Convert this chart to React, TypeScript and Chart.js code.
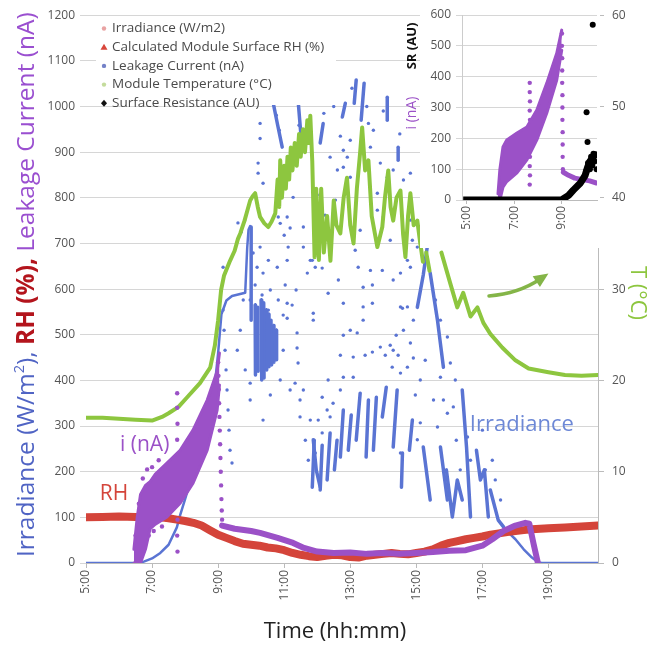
import React, { useEffect, useRef } from 'react';
import { Chart, registerables } from 'chart.js';
Chart.register(...registerables);

const FONT = "'Open Sans', sans-serif";
Chart.defaults.font.family = FONT;

// ---------- main chart data (time in decimal hours) ----------
const xTicks = [5, 7, 9, 11, 13, 15, 17, 19];
const insetXTicks = [5, 7, 9];

const legendLabels = ['Irradiance (W/m2)', 'Calculated Module Surface RH (%)', 'Leakage Current (nA)', 'Module Temperature (°C)', 'Surface Resistance (AU)'];
const legendColors = ['#e9a3a3', '#d9463b', '#7482c8', '#c4dc9c', '#111111'];
const legendShapes = ['dot', 'triangle', 'dot', 'dot', 'diamond'];

// Relative humidity (%)
const rhT = [5.0, 5.5, 6.0, 6.5, 7.0, 7.25, 7.5, 7.75, 8.0, 8.25, 8.5, 8.75, 9.0, 9.25, 9.5, 9.75, 10.0, 10.25, 10.5, 10.75, 11.0, 11.25, 11.5, 11.75, 12.0, 12.25, 12.5, 12.75, 13.0, 13.25, 13.5, 13.75, 14.0, 14.25, 14.5, 14.75, 15.0, 15.25, 15.5, 15.75, 16.0, 16.25, 16.5, 16.75, 17.0, 17.25, 17.5, 17.75, 18.0, 18.25, 18.5, 19.0, 19.5, 20.0, 20.5];
const rhV = [100, 101, 102, 101, 100, 100, 98, 95, 92, 88, 82, 72, 62, 55, 48, 42, 40, 38, 34, 32, 28, 22, 18, 15, 13, 16, 18, 17, 13, 12, 16, 18, 20, 22, 20, 19, 22, 25, 30, 38, 44, 48, 52, 55, 58, 62, 65, 68, 70, 72, 74, 76, 78, 80, 82];

// Module temperature (°C, right axis); null = gap in the record
const tempT = [5.0, 5.5, 6.0, 6.5, 7.0, 7.3, 7.5, 7.8, 8.05, 8.45, 8.76, 8.9, 9.0, 9.09, 9.18, 9.36, 9.5, 9.6, 9.67, 9.8, 9.9, 9.97, 10.05, 10.12, 10.2, 10.27, 10.4, 10.52, 10.62, 10.73, 10.8, 10.85, 10.88, 10.93, 11.0, 11.05, 11.1, 11.15, 11.2, 11.25, 11.32, 11.38, 11.45, 11.5, 11.57, 11.63, 11.7, 11.75, 11.79, 11.85, 11.92, 11.97, 12.05, 12.12, 12.2, 12.3, 12.4, 12.5, 12.58, 12.7, 12.8, 12.9, 13.0, 13.1, 13.2, 13.3, 13.36, 13.45, 13.55, 13.65, 13.75, 13.82, 13.97, 14.05, 14.15, 14.22, 14.3, 14.4, 14.52, 14.6, 14.67, 14.75, 14.82, 14.92, 15.03, 15.12, 15.2, 15.2, 15.3, 15.4, 15.4, 15.76, 16.03, 16.24, 16.42, 16.64, 16.85, 17.03, 17.24, 17.6, 18.0, 18.4, 19.0, 19.5, 20.0, 20.5];
const tempV = [15.9, 15.9, 15.8, 15.7, 15.6, 16.0, 16.4, 17.1, 18.1, 19.7, 21.4, 23.8, 26.6, 29.9, 31.5, 33.1, 34.2, 35.5, 36.1, 37.5, 38.8, 39.7, 40.2, 40.5, 39.0, 37.9, 37.2, 36.8, 37.4, 38.3, 42, 39, 44.1, 40, 43.5, 41, 44.5, 42, 45.5, 43, 46, 43.5, 47, 44.5, 47.5, 45, 48.5, 46, 49, 44, 33.5, 41, 33.2, 41, 34, 38, 33.1, 39.7, 37, 36.1, 40, 42.2, 37, 35, 41, 45, 47.7, 43, 44.1, 38, 36, 34.6, 36.8, 40, 43, 39, 37.5, 40, 40.8, 36, 33.5, 38, 40.5, 37, 37.5, 35, 33, null, 34, 32, null, 34, 30.6, 28, 29.6, 27, 28, 26.3, 25.1, 23.6, 22.2, 21.3, 20.9, 20.6, 20.5, 20.6];

// Leakage current (nA): dense morning band, then a line
const leakBandT = [6.45, 6.55, 6.65, 6.8, 6.94, 7.1, 7.45, 7.85, 8.24, 8.67, 8.97, 9.04];
const leakBandLow = [0, 0, 0, 30, 75, 85, 101, 131, 175, 247, 335, 390];
const leakBandHigh = [30, 100, 150, 170, 178, 195, 219, 247, 291, 357, 420, 460];
const leakLineT = [9.12, 9.5, 10.0, 10.27, 10.8, 11.27, 11.6, 12.0, 12.5, 13.0, 13.5, 14.0, 14.5, 15.0, 15.5, 16.0, 16.5, 17.0, 17.3, 17.64, 18.0, 18.3, 18.42, 18.55, 18.68];
const leakLineV = [82, 75, 70, 66, 55, 44, 33, 25, 22, 23, 20, 22, 20, 22, 24, 27, 28, 38, 52, 70, 82, 88, 86, 42, 0];
const leakDotT = [7.76, 7.76, 7.77, 7.76, 7.77, 7.76, 7.77, 7.76, 7.77, 7.76, 7.77, 9.0, 9.01, 9.02, 9.03, 9.04, 9.05, 9.06, 9.07, 9.08, 9.09, 9.1, 9.11, 9.12, 6.5, 6.6, 6.72, 6.85, 6.9, 7.0, 7.05, 7.2, 7.3];
const leakDotV = [372, 340, 305, 270, 235, 200, 165, 130, 95, 60, 25, 440, 410, 380, 350, 320, 290, 260, 230, 200, 170, 140, 115, 95, 60, 130, 185, 205, 60, 210, 70, 225, 80];

// Irradiance (W/m2): clear-sky line parts (null = gap)
const irrLineT = [5.0, 6.6, 6.75, 7.0, 7.25, 7.5, 7.75, 7.85, 8.0, 8.25, 8.5, 8.75, 8.9, 9.0, 9.1, 9.25, 9.42, 9.82, 9.88, 9.92, 9.97, 9.97, 17.64, 17.8, 18.0, 18.25, 18.5, 18.7, 18.8, 20.5];
const irrLineV = [0, 0, 3, 10, 22, 40, 78, 105, 140, 200, 270, 340, 390, 460, 545, 575, 585, 592, 690, 730, 738, null, 79, 66, 52, 30, 12, 1, 0, 0];
// Irradiance dense clusters (short strokes, null = gap)
const irrStrokeT = [10.0, 10.0, 10.0, 10.12, 10.13, 10.13, 10.2, 10.21, 10.21, 10.3, 10.32, 10.32, 10.38, 10.39, 10.39, 10.45, 10.47, 10.47, 10.53, 10.54, 10.54, 10.6, 10.62, 10.62, 10.68, 10.69, 10.69, 10.76, 10.77, 10.77, 10.67, 10.8, 10.94, 10.94, 11.42, 11.52, 11.52, 11.88, 11.97, 12.09, 12.09, 11.85, 11.91, 11.91, 12.09, 12.15, 12.15, 12.3, 12.39, 12.39, 12.52, 12.6, 12.6, 12.7, 12.79, 12.79, 12.94, 13.03, 13.03, 13.18, 13.3, 13.3, 13.48, 13.55, 13.55, 13.7, 13.79, 13.79, 13.97, 14.09, 14.09, 14.3, 14.42, 14.42, 14.55, 14.58, 14.58, 14.79, 14.88, 14.88, 13.12, 13.18, 13.18, 13.33, 13.42, 13.42, 12.09, 12.18, 12.18, 12.76, 12.85, 12.85, 14.12, 14.12, 14.12, 14.45, 14.45, 14.45, 15.03, 15.21, 15.36, 15.36, 15.42, 15.64, 15.82, 15.82, 15.21, 15.42, 15.42, 15.73, 15.94, 15.94, 15.91, 16.09, 16.24, 16.39, 16.39, 16.39, 16.52, 16.64, 16.64, 16.82, 16.94, 17.06, 17.18, 17.18, 17.24, 17.48, 17.64];
const irrStrokeV = [736, 532, null, 565, 412, null, 560, 420, null, 576, 401, null, 570, 405, null, 554, 423, null, 545, 430, null, 532, 434, null, 520, 440, null, 510, 445, null, 1007, 960, 911, null, 1014, 926, null, 270, 204, 166, null, 166, 269, null, 160, 258, null, 182, 285, null, 204, 269, null, 232, 335, null, 247, 324, null, 269, 372, null, 232, 357, null, 247, 363, null, 320, 385, null, 254, 379, null, 166, 241, null, 247, 313, null, 1007, 1058, null, 970, 1051, null, 920, 963, null, 977, 1007, null, 970, 1020, null, 882, 911, null, 560, 631, 707, null, 635, 532, 429, null, 254, 138, null, 254, 138, null, 204, 101, 182, 138, null, 379, 254, 101, null, 247, 182, 204, 101, null, 160, 94, 79];
// Irradiance scattered readings
const irrDotT = [10.27, 10.27, 10.76, 10.85, 11.45, 11.24, 10.94, 10.21, 10.21, 10.36, 11.27, 11.09, 10.82, 10.88, 11.18, 11.0, 11.58, 10.27, 10.06, 10.18, 10.36, 10.52, 10.79, 11.09, 11.12, 11.58, 11.79, 11.94, 11.7, 9.15, 10.12, 10.33, 10.58, 10.82, 11.03, 11.24, 10.52, 10.97, 11.36, 9.97, 9.6, 9.7, 9.8,
  11.88, 12.79, 13.39, 13.67, 13.39, 13.21, 13.0, 12.79, 12.7, 13.09, 13.45, 13.67, 13.91, 14.21, 14.3, 14.06, 14.45, 14.27, 14.52, 14.73, 14.91, 14.82, 14.73, 14.52, 14.91, 12.33, 12.79, 13.09, 12.7, 12.15, 12.3, 12.48, 12.39, 12.15, 11.94, 14.52, 14.39, 14.61,
  11.85, 12.15, 12.64, 12.33, 13.24, 13.61, 13.97, 13.39, 13.67, 14.3, 14.52, 14.73, 15.03, 14.82, 11.88, 14.58, 12.91, 12.79, 12.39, 12.61, 13.0, 13.61, 13.55, 13.7, 12.79, 13.0, 13.91, 14.3, 14.12, 13.82, 14.0, 14.36, 14.61, 14.82, 14.82, 14.88, 13.82, 12.55, 12.24, 13.3, 14.21, 13.15, 12.0, 12.2, 12.5, 13.05, 13.5, 14.0, 14.5, 12.7,
  15.94, 16.03, 15.73, 15.82, 15.94, 15.64, 16.12, 15.12, 15.03, 16.55, 15.12, 14.97, 15.27, 15.52, 15.58, 15.73, 16.18, 16.64, 17.0, 17.09, 17.3, 17.55, 17.39, 16.21, 16.33,
  9.15, 9.18, 9.21, 9.24, 9.27, 9.3, 9.33, 9.36, 9.42, 11.09, 11.09, 11.39, 11.39, 11.42, 11.48, 11.48, 11.33, 9.97, 9.97, 9.67, 9.58, 9.76, 9.82, 10.97, 11.18, 10.88, 10.58, 10.36, 11.64, 11.73, 11.58, 11.79, 12.03];
const irrDotV = [963, 930, 981, 948, 959, 876, 861, 876, 854, 832, 801, 758, 758, 744, 734, 718, 736, 692, 679, 648, 635, 663, 648, 663, 692, 692, 663, 648, 635, 648, 609, 587, 598, 576, 609, 565, 554, 543, 598, 576, 745, 725, 750,
  532, 569, 561, 569, 532, 504, 510, 499, 455, 451, 455, 462, 473, 477, 466, 455, 455, 429, 416, 429, 449, 482, 561, 561, 532, 401, 407, 407, 379, 363, 335, 350, 320, 285, 241, 241, 499, 510,
  663, 646, 620, 591, 648, 641, 641, 604, 609, 620, 635, 663, 692, 648, 547, 558, 889, 904, 889, 861, 926, 911, 963, 948, 867, 845, 876, 861, 845, 773, 758, 780, 839, 854, 751, 707, 810, 795, 762, 729, 707, 685, 806, 985, 1000, 1040, 1000, 990, 940, 935,
  495, 438, 407, 357, 328, 298, 342, 307, 270, 276, 401, 368, 444, 357, 576, 532, 401, 225, 291, 204, 225, 138, 182, 269, 204,
  554, 510, 466, 423, 379, 335, 291, 247, 219, 569, 536, 504, 471, 438, 357, 320, 394, 394, 357, 510, 466, 576, 423, 466, 379, 401, 368, 313, 269, 225, 379, 313, 313];

// ---------- inset data ----------
const inLeakBandT = [6.32, 6.4, 6.53, 6.69, 7.12, 7.54, 7.96, 8.38, 8.8, 9.01];
const inLeakBandLow = [0, 0, 42, 60, 88, 130, 195, 282, 389, 486];
const inLeakBandHigh = [20, 100, 172, 195, 217, 237, 292, 379, 476, 551];
const inLeakDotT = [7.66, 7.66, 7.67, 7.66, 7.67, 7.66, 7.67, 7.66, 7.67, 7.66, 7.67, 7.66, 9.02, 9.02, 9.03, 9.03, 9.03, 9.04, 9.04, 9.04, 9.05, 9.05, 9.05, 9.06];
const inLeakDotV = [380, 350, 320, 290, 260, 230, 200, 170, 140, 110, 80, 50, 540, 500, 460, 420, 380, 340, 300, 260, 220, 180, 140, 100];
const inLeakLineT = [9.08, 9.3, 9.56, 9.9, 10.19, 10.48];
const inLeakLineV = [90, 80, 71, 66, 62, 55];
const srLineT = [4.85, 6.0, 7.0, 8.0, 9.0, 9.3, 9.5, 9.8, 10.0, 10.1, 10.2, 10.35, 10.48];
const srLineV = [0, 0, 0, 0, 0, 15, 32, 55, 80, 105, 125, 140, 152];
const srDotT = [10.05, 10.12, 10.2, 10.25, 10.3, 10.35, 10.4, 10.45, 10.48, 10.1, 10.06, 10.32];
const srDotV = [95, 120, 100, 140, 112, 150, 125, 148, 100, 188, 285, 568];

// ---------- colours ----------
const BLUE = '#5a74d3';
const RED = '#d4443a';
const PURPLE = '#9b51c7';
const GREEN = '#8dc63f';

const toXY = (t: number[], v: (number | null)[]) => t.map((x, i) => ({ x, y: v[i] }));
// split a series into separate runs at null values
const runs = (t: number[], v: (number | null)[]) => {
  const out: { x: number; y: number }[][] = [];
  let cur: { x: number; y: number }[] = [];
  t.forEach((x, i) => {
    const y = v[i];
    if (y === null || y === undefined) { if (cur.length) out.push(cur); cur = []; }
    else cur.push({ x, y });
  });
  if (cur.length) out.push(cur);
  return out;
};

const lineDs = (label: string, data: any, color: string, width: number, order: number, extra: any = {}) => ({
  label, data, borderColor: color, backgroundColor: color, borderWidth: width, pointRadius: 0,
  pointHoverRadius: 0, fill: false, tension: 0, order, spanGaps: false,
  borderJoinStyle: 'round', borderCapStyle: 'round', ...extra,
});
const dotDs = (label: string, data: any, color: string, r: number, order: number, extra: any = {}) => ({
  label, data, showLine: false, pointRadius: r, pointHoverRadius: 0, pointBorderWidth: 0,
  pointBackgroundColor: color, borderColor: color, backgroundColor: color, order, ...extra,
});

function drawMarker(ctx: CanvasRenderingContext2D, shape: string, x: number, y: number, color: string) {
  ctx.fillStyle = color;
  ctx.beginPath();
  if (shape === 'triangle') {
    ctx.moveTo(x, y - 3.5); ctx.lineTo(x + 3.5, y + 2.5); ctx.lineTo(x - 3.5, y + 2.5); ctx.closePath();
  } else if (shape === 'diamond') {
    ctx.moveTo(x, y - 3.5); ctx.lineTo(x + 3, y); ctx.lineTo(x, y + 3.5); ctx.lineTo(x - 3, y); ctx.closePath();
  } else {
    ctx.arc(x, y, 2.2, 0, Math.PI * 2);
  }
  ctx.fill();
}

const mainDecor = {
  id: 'mainDecor',
  afterDraw(chart: any) {
    const ctx: CanvasRenderingContext2D = chart.ctx;
    const xs = chart.scales.x, ys = chart.scales.y;
    const px = (t: number) => xs.getPixelForValue(t);
    const py = (v: number) => ys.getPixelForValue(v);
    ctx.save();

    // legend box
    ctx.fillStyle = '#fff';
    ctx.fillRect(96, 17, 240, 88);
    ctx.font = `13.5px ${FONT}`;
    ctx.textBaseline = 'middle';
    ctx.textAlign = 'left';
    legendLabels.forEach((lab, i) => {
      const yy = 28.5 + i * 18.7;
      drawMarker(ctx, legendShapes[i], 104, yy, legendColors[i]);
      ctx.fillStyle = '#4a4a4a';
      ctx.fillText(lab, 112, yy);
    });

    // left multi-coloured axis title
    const parts = [
      { t: 'Irradiance (W/m', c: '#5064c4', b: false, sup: false },
      { t: '2', c: '#5064c4', b: false, sup: true },
      { t: '), ', c: '#5064c4', b: false, sup: false },
      { t: 'RH (%), ', c: '#b3141c', b: true, sup: false },
      { t: 'Leakage Current (nA)', c: '#9a4fd0', b: false, sup: false },
    ];
    const base = 20;
    const fontFor = (p: any, s: number) => `${p.b ? 'bold ' : ''}${p.sup ? s * 0.6 : s}px ${FONT}`;
    let total = 0;
    parts.forEach(p => { ctx.font = fontFor(p, base); total += ctx.measureText(p.t).width; });
    const size = base * 545 / total;
    ctx.translate(27, 557);
    ctx.rotate(-Math.PI / 2);
    let off = 0;
    parts.forEach(p => {
      ctx.font = fontFor(p, size);
      ctx.fillStyle = p.c;
      ctx.textBaseline = 'middle';
      ctx.fillText(p.t, off, p.sup ? -size * 0.3 : 0);
      off += ctx.measureText(p.t).width;
    });
    ctx.setTransform(1, 0, 0, 1, 0, 0);

    // right axis title
    ctx.translate(637, 293);
    ctx.rotate(Math.PI / 2);
    ctx.font = `22px ${FONT}`;
    ctx.fillStyle = GREEN;
    ctx.textAlign = 'center';
    ctx.textBaseline = 'middle';
    ctx.fillText('T (°C)', 0, 0);
    ctx.setTransform(1, 0, 0, 1, 0, 0);

    // x axis title
    ctx.font = `22px ${FONT}`;
    ctx.fillStyle = '#222';
    ctx.textAlign = 'center';
    ctx.textBaseline = 'middle';
    ctx.fillText('Time (hh:mm)', 335, 632);

    // in-plot annotations
    ctx.textAlign = 'left';
    ctx.textBaseline = 'alphabetic';
    ctx.font = `21px ${FONT}`;
    ctx.fillStyle = PURPLE;
    ctx.fillText('i (nA)', px(6.03), py(245));
    ctx.fillStyle = RED;
    ctx.fillText('RH', px(5.42), py(138));
    ctx.fillStyle = '#6d88d6';
    ctx.font = `22px ${FONT}`;
    ctx.fillText('Irradiance', px(16.62), py(290));

    // green arrow to right axis
    const x0 = px(17.2), y0 = py(585);
    const cx = px(18.1), cy = py(590);
    const x1 = px(18.75), y1 = py(622);
    ctx.strokeStyle = '#84b548';
    ctx.lineWidth = 3.5;
    ctx.lineCap = 'round';
    ctx.beginPath();
    ctx.moveTo(x0, y0);
    ctx.quadraticCurveTo(cx, cy, x1, y1);
    ctx.stroke();
    const ang = Math.atan2(y1 - cy, x1 - cx);
    ctx.fillStyle = '#84b548';
    ctx.beginPath();
    ctx.moveTo(x1 + 10 * Math.cos(ang), y1 + 10 * Math.sin(ang));
    ctx.lineTo(x1 + 8 * Math.cos(ang + 2.2), y1 + 8 * Math.sin(ang + 2.2));
    ctx.lineTo(x1 + 8 * Math.cos(ang - 2.2), y1 + 8 * Math.sin(ang - 2.2));
    ctx.closePath();
    ctx.fill();
    ctx.restore();
  },
};

const insetDecor = {
  id: 'insetDecor',
  beforeDraw(chart: any) {
    const ctx = chart.ctx;
    ctx.save();
    ctx.fillStyle = '#fff';
    ctx.fillRect(18, 0, chart.width - 18, 248);
    ctx.restore();
  },
  afterDraw(chart: any) {
    const ctx: CanvasRenderingContext2D = chart.ctx;
    ctx.save();
    ctx.textAlign = 'center';
    ctx.textBaseline = 'middle';
    ctx.translate(10, 46);
    ctx.rotate(-Math.PI / 2);
    ctx.font = `bold 13px ${FONT}`;
    ctx.fillStyle = '#111';
    ctx.fillText('SR (AU)', 0, 0);
    ctx.setTransform(1, 0, 0, 1, 0, 0);
    ctx.translate(10, 113);
    ctx.rotate(-Math.PI / 2);
    ctx.font = `14px ${FONT}`;
    ctx.fillStyle = PURPLE;
    ctx.fillText('i (nA)', 0, 0);
    ctx.restore();
  },
};

const tickFont = { family: FONT, size: 12 };
const hourLabel = (v: any) => `${v}:00`;
const plainLabel = (v: any) => `${v}`;

export default function App() {
  const mainRef = useRef<HTMLCanvasElement>(null);
  const insetRef = useRef<HTMLCanvasElement>(null);

  useEffect(() => {
    const datasets: any[] = [
      lineDs('leakLow', toXY(leakBandT, leakBandLow), PURPLE, 3, 0),
      lineDs('leakHigh', toXY(leakBandT, leakBandHigh), PURPLE, 3, 0, { fill: '-1', backgroundColor: PURPLE }),
      lineDs('leakLine', toXY(leakLineT, leakLineV), PURPLE, 6, 0),
      dotDs('leakDots', toXY(leakDotT, leakDotV), PURPLE, 2.2, 0),
      lineDs('rh', toXY(rhT, rhV), RED, 8, 1),
    ];
    runs(tempT, tempV).forEach((r, i) => datasets.push(lineDs('temp' + i, r, GREEN, 4, 2, { yAxisID: 'yT' })));
    runs(irrLineT, irrLineV).forEach((r, i) => datasets.push(lineDs('irrLine' + i, r, BLUE, 2.5, 3)));
    runs(irrStrokeT, irrStrokeV).forEach((r, i) => datasets.push(lineDs('irrStroke' + i, r, BLUE, 3.5, 3)));
    datasets.push(dotDs('irrDots', toXY(irrDotT, irrDotV), BLUE, 1.7, 3));

    const main = new Chart(mainRef.current as HTMLCanvasElement, {
      type: 'line',
      data: { datasets },
      options: {
        responsive: false,
        animation: false,
        events: [],
        layout: { padding: { top: 15, left: 0, right: 0, bottom: 0 } },
        plugins: { legend: { display: false }, tooltip: { enabled: false } },
        scales: {
          x: {
            type: 'linear', min: 5, max: 20.5,
            afterBuildTicks: (s: any) => { s.ticks = xTicks.map(v => ({ value: v })); },
            ticks: { callback: hourLabel, minRotation: 90, maxRotation: 90, font: tickFont, color: '#555', padding: 2, autoSkip: false },
            grid: { drawOnChartArea: false, drawTicks: true, tickLength: 5, color: '#bbb' },
            border: { color: '#bbb' },
            afterFit: (s: any) => { s.height = 84; },
          },
          y: {
            position: 'left', min: 0, max: 1200,
            ticks: { stepSize: 100, font: tickFont, color: '#555', padding: 5, callback: plainLabel },
            grid: { color: '#d6d6d6', tickLength: 6 },
            border: { display: false },
            afterFit: (s: any) => { s.width = 86; },
          },
          yT: {
            position: 'right', min: 0, max: 60,
            ticks: { stepSize: 10, font: tickFont, color: '#555', padding: 8, callback: plainLabel },
            grid: { drawOnChartArea: false, tickLength: 6, color: '#bbb' },
            border: { color: '#bbb' },
            afterFit: (s: any) => { s.width = 49; },
          },
        },
      } as any,
      plugins: [mainDecor],
    } as any);

    const inset = new Chart(insetRef.current as HTMLCanvasElement, {
      type: 'line',
      data: {
        datasets: [
          lineDs('srLine', toXY(srLineT, srLineV), '#000', 7, 0, { borderCapStyle: 'butt' }),
          dotDs('srDots', toXY(srDotT, srDotV), '#000', 3, 0),
          lineDs('inLow', toXY(inLeakBandT, inLeakBandLow), PURPLE, 3, 1),
          lineDs('inHigh', toXY(inLeakBandT, inLeakBandHigh), PURPLE, 3, 1, { fill: '-1', backgroundColor: PURPLE }),
          lineDs('inLine', toXY(inLeakLineT, inLeakLineV), PURPLE, 5, 1),
          dotDs('inDots', toXY(inLeakDotT, inLeakDotV), PURPLE, 2.2, 1),
        ],
      },
      options: {
        responsive: false,
        animation: false,
        events: [],
        layout: { padding: { top: 15, right: 3, left: 0, bottom: 0 } },
        plugins: { legend: { display: false }, tooltip: { enabled: false } },
        scales: {
          x: {
            type: 'linear', min: 4.8, max: 10.5,
            afterBuildTicks: (s: any) => { s.ticks = insetXTicks.map(v => ({ value: v })); },
            ticks: { callback: hourLabel, minRotation: 90, maxRotation: 90, font: tickFont, color: '#555', padding: 2, autoSkip: false },
            grid: { drawOnChartArea: false, drawTicks: true, tickLength: 4, color: '#bbb' },
            border: { color: '#bbb' },
            afterFit: (s: any) => { s.height = 50; },
          },
          y: {
            position: 'left', min: 0, max: 600,
            ticks: { stepSize: 100, font: tickFont, color: '#555', padding: 5, callback: plainLabel },
            grid: { color: '#d6d6d6', tickLength: 6 },
            border: { color: '#ccc' },
            afterFit: (s: any) => { s.width = 60; },
          },
        },
      } as any,
      plugins: [insetDecor],
    } as any);

    return () => { main.destroy(); inset.destroy(); };
  }, []);

  return (
    <div style={{ position: 'absolute', left: 0, top: 0, width: 647, height: 647, background: '#fff' }}>
      <canvas ref={mainRef} width={647} height={647} style={{ position: 'absolute', left: 0, top: 0 }} />
      <canvas ref={insetRef} width={198} height={250} style={{ position: 'absolute', left: 402, top: 0 }} />
    </div>
  );
}
